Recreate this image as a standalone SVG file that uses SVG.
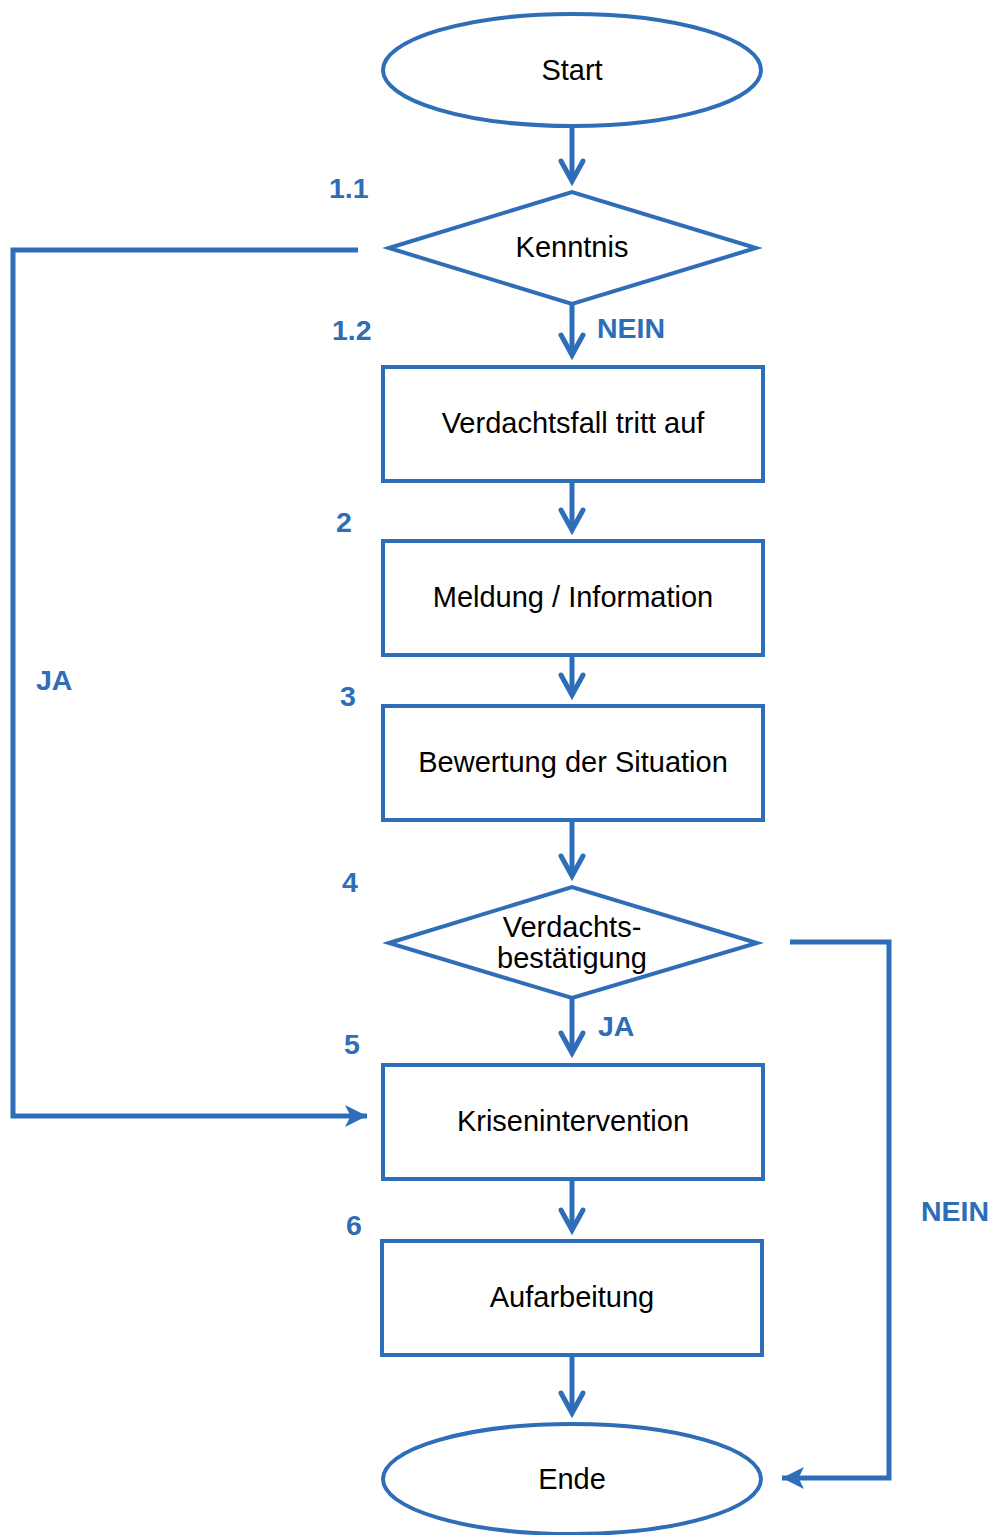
<svg xmlns="http://www.w3.org/2000/svg" width="993" height="1535" viewBox="0 0 993 1535">
<defs>
<style>
.s{fill:#fff;stroke:#2E6DB8;stroke-width:4}
.t{font-family:"Liberation Sans",Arial,sans-serif;font-size:29px;fill:#000;text-anchor:middle}
.l{font-family:"Liberation Sans",Arial,sans-serif;font-size:28.5px;font-weight:bold;fill:#2E6DB8}
.c{fill:none;stroke:#2E6DB8;stroke-width:5}
.ch{fill:none;stroke:#2E6DB8;stroke-width:5;stroke-linecap:round;stroke-linejoin:miter}
</style>
<marker id="fa" viewBox="0 0 10 10" refX="10" refY="5" markerWidth="4.4" markerHeight="4.4" orient="auto" markerUnits="strokeWidth">
<path d="M0,0 L10,5 L0,10 L2.5,5 Z" fill="#2E6DB8"/>
</marker>
</defs>
<g id="connectors">
<path class="c" d="M572,127 V181"/><path class="ch" d="M561,161 L572,181 L583,161"/>
<path class="c" d="M572,305 V355"/><path class="ch" d="M561,335 L572,355 L583,335"/>
<path class="c" d="M572,481 V530"/><path class="ch" d="M561,510 L572,530 L583,510"/>
<path class="c" d="M572,655 V695"/><path class="ch" d="M561,675 L572,695 L583,675"/>
<path class="c" d="M572,820 V876"/><path class="ch" d="M561,856 L572,876 L583,856"/>
<path class="c" d="M572,999 V1053"/><path class="ch" d="M561,1033 L572,1053 L583,1033"/>
<path class="c" d="M572,1179 V1230"/><path class="ch" d="M561,1210 L572,1230 L583,1210"/>
<path class="c" d="M572,1355 V1413"/><path class="ch" d="M561,1393 L572,1413 L583,1393"/>
<path class="c" d="M358,250 H13 V1116 H367" marker-end="url(#fa)"/>
<path class="c" d="M790,942 H889 V1478 H782" marker-end="url(#fa)"/>
</g>
<g id="start"><ellipse class="s" cx="572" cy="70" rx="189" ry="56"/><text class="t" x="572" y="80">Start</text></g>
<g id="kenntnis"><polygon class="s" points="389,248 572,192 756,248 572,304"/><text class="t" x="572" y="257">Kenntnis</text></g>
<g id="verdachtsfall"><rect class="s" x="383" y="367" width="380" height="114"/><text class="t" x="573" y="433">Verdachtsfall tritt auf</text></g>
<g id="meldung"><rect class="s" x="383" y="541" width="380" height="114"/><text class="t" x="573" y="607">Meldung / Information</text></g>
<g id="bewertung"><rect class="s" x="383" y="706" width="380" height="114"/><text class="t" x="573" y="772">Bewertung der Situation</text></g>
<g id="bestaetigung"><polygon class="s" points="389,943 572,887 757,943 572,998"/><text class="t" x="572" y="937">Verdachts-</text><text class="t" x="572" y="968">bestätigung</text></g>
<g id="krisenintervention"><rect class="s" x="383" y="1065" width="380" height="114"/><text class="t" x="573" y="1131">Krisenintervention</text></g>
<g id="aufarbeitung"><rect class="s" x="382" y="1241" width="380" height="114"/><text class="t" x="572" y="1307">Aufarbeitung</text></g>
<g id="ende"><ellipse class="s" cx="572" cy="1479" rx="189" ry="55"/><text class="t" x="572" y="1489">Ende</text></g>
<g id="labels">
<text class="l" x="329" y="198">1.1</text>
<text class="l" x="332" y="340">1.2</text>
<text class="l" x="336" y="532">2</text>
<text class="l" x="340" y="706">3</text>
<text class="l" x="342" y="892">4</text>
<text class="l" x="344" y="1054">5</text>
<text class="l" x="346" y="1235">6</text>
<text class="l" x="597" y="338">NEIN</text>
<text class="l" x="598" y="1036">JA</text>
<text class="l" x="36" y="690">JA</text>
<text class="l" x="921" y="1221">NEIN</text>
</g>
</svg>
